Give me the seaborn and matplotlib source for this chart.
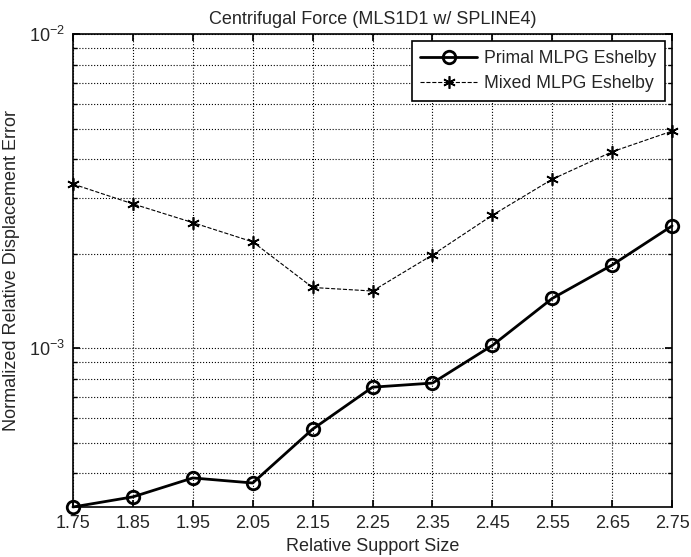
import pandas as pd
import matplotlib.pyplot as plt
import seaborn as sns
from matplotlib.ticker import LogLocator, NullFormatter

# Data
support_size = [1.75, 1.85, 1.95, 2.05, 2.15, 2.25, 2.35, 2.45, 2.55, 2.65, 2.75]
primal_error = [3.12e-4, 3.36e-4, 3.86e-4, 3.72e-4, 5.52e-4, 7.51e-4,
                7.74e-4, 1.02e-3, 1.44e-3, 1.84e-3, 2.45e-3]
mixed_error = [3.33e-3, 2.88e-3, 2.51e-3, 2.18e-3, 1.56e-3, 1.52e-3,
               1.98e-3, 2.65e-3, 3.45e-3, 4.22e-3, 4.91e-3]
x_ticks = [1.75, 1.85, 1.95, 2.05, 2.15, 2.25, 2.35, 2.45, 2.55, 2.65, 2.75]

df = pd.DataFrame({'size': support_size, 'primal': primal_error, 'mixed': mixed_error})

sns.set_theme(style="ticks")
plt.rcParams['font.family'] = ['Liberation Sans', 'DejaVu Sans']
plt.rcParams['mathtext.fontset'] = 'custom'
plt.rcParams['mathtext.rm'] = 'Liberation Sans'

FS = 13

fig = plt.figure(figsize=(6.91, 5.57), dpi=100)
ax = fig.add_axes([0.1056, 0.0898, 0.867, 0.849])

sns.lineplot(data=df, x='size', y='primal', ax=ax, color='black', linewidth=2,
             marker='o', markersize=9, markerfacecolor='none', markeredgecolor='black',
             markeredgewidth=2, label='Primal MLPG Eshelby', clip_on=False)
# MATLAB-style asterisk marker: 6-armed star of lines
sns.lineplot(data=df, x='size', y='mixed', ax=ax, color='black', linewidth=0.8,
             linestyle='--', marker=(6, 2, 0), markersize=9, markeredgecolor='black',
             markeredgewidth=1.2, label='Mixed MLPG Eshelby', clip_on=False)

ax.set_yscale('log')
ax.set_xlim(1.75, 2.75)
ax.set_ylim(3.12e-4, 1e-2)
ax.set_xticks(x_ticks)
ax.set_xticklabels([f'{v:.2f}' for v in x_ticks])
ax.yaxis.set_major_locator(LogLocator(base=10, numticks=10))
ax.yaxis.set_minor_locator(LogLocator(base=10, subs=range(2, 10), numticks=20))
ax.yaxis.set_minor_formatter(NullFormatter())

ax.grid(True, which='major', color='black', linestyle=':', linewidth=0.8)
ax.grid(True, which='minor', axis='y', color='black', linestyle=':', linewidth=0.8)
ax.tick_params(which='both', direction='in', top=True, right=True, labelsize=FS, color='black')
ax.tick_params(which='major', length=5, pad=6)
ax.tick_params(which='minor', length=3)
for spine in ax.spines.values():
    spine.set_color('black')
    spine.set_linewidth(1.2)

ax.set_title('Centrifugal Force (MLS1D1 w/ SPLINE4)', fontsize=FS, pad=7)
ax.set_xlabel('Relative Support Size', fontsize=FS, labelpad=4)
ax.set_ylabel('Normalized Relative Displacement Error', fontsize=FS, labelpad=6)

leg = ax.legend(loc='upper right', fontsize=12.7, fancybox=False, framealpha=1,
                edgecolor='black', borderaxespad=0.4, handlelength=3.2,
                borderpad=0.5, labelspacing=0.45, handletextpad=0.4)
leg.get_frame().set_linewidth(1.2)

fig.savefig('out.png', dpi=100)
plt.close(fig)
